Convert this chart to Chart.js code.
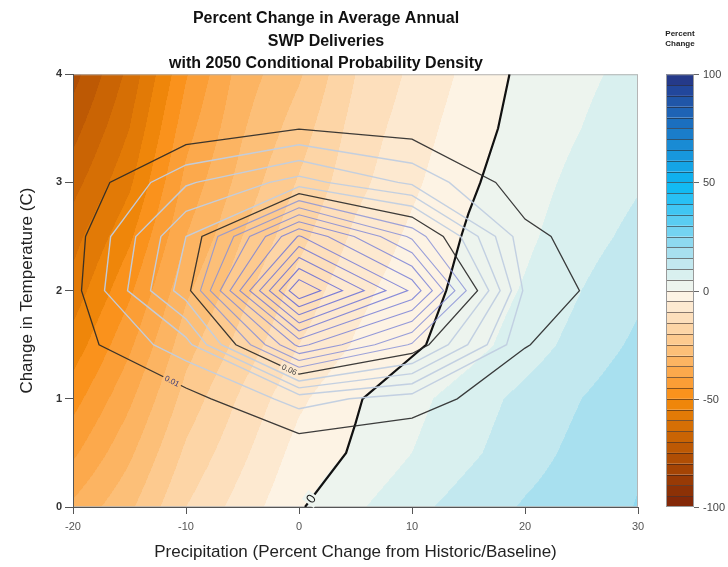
<!DOCTYPE html>
<html>
<head>
<meta charset="utf-8">
<script src="https://cdn.jsdelivr.net/npm/chart.js@4.4.1/dist/chart.umd.min.js"></script>
<style>
  html, body { margin: 0; padding: 0; background: #ffffff; }
  canvas { display: block; }
</style>
</head>
<body>
<canvas id="chart" width="728" height="567"></canvas>
<script>
// ---- Data -------------------------------------------------------------
// Precipitation change (%) columns of the delivery-change grid
const precipFine = [-20, -15, -10, -5, 0, 5, 10, 15, 20, 25, 30];
// Temperature change (C) rows shared by both grids
const tempSteps = [0, 0.5, 1, 1.5, 2, 2.5, 3, 3.5, 4];
// Percent change in average annual SWP deliveries (row = temperature step)
const deliveryChange = [
  [-34, -26, -15, -7.7, -0.5, 4.2, 8.5, 12.3, 15.5, 18, 20.2],
  [-41, -31, -19, -11, -3, 0.6, 5, 9, 13, 16.5, 19.5],
  [-47, -36, -23, -14, -6, -0.5, 3.5, 7.5, 11.5, 15, 18.5],
  [-53, -41, -27, -18, -10, -4.5, -1, 3, 7.5, 12, 16],
  [-58, -46, -31, -21.5, -13, -6.5, -2.3, 1.5, 5.5, 10, 14],
  [-62, -51, -35, -25, -16.5, -9, -4, 0.6, 4, 8, 11.5],
  [-67, -56, -38.5, -28, -19.5, -11.5, -6, -0.8, 3, 6.5, 9.5],
  [-72, -60, -42, -30.5, -22.5, -13, -7.5, -2.2, 2, 5, 8],
  [-77, -63.5, -45.5, -32.5, -25.7, -15, -9, -3.7, 1.4, 4, 6.5]
];
// Precipitation change (%) columns of the probability-density grid
const precipCoarse = [-20, -10, 0, 10, 20, 30];
// 2050 conditional probability density (row = temperature step)
const density = [
  [0, 0, 0, 0, 0, 0],
  [0, 0.0005, 0.0023, 0.001, 0, 0],
  [0.001, 0.006, 0.024, 0.015, 0.0025, 0],
  [0.0052, 0.026, 0.103, 0.0687, 0.0105, 0],
  [0.0063, 0.0554, 0.17, 0.118, 0.018, 0.0014],
  [0.005, 0.05, 0.121, 0.078, 0.013, 0],
  [0.001, 0.0286, 0.044, 0.028, 0.0037, 0],
  [0, 0.002, 0.0095, 0.0055, 0, 0],
  [0, 0, 0.001, 0, 0, 0]
];
// Density contour levels
const outerLevels = [0.01, 0.06];
const paleLevels = [0.02, 0.03, 0.04, 0.05];
const innerLevels = [0.07, 0.08, 0.09, 0.10, 0.11, 0.12, 0.13, 0.14, 0.15, 0.16];
// Colour-scale band edges (percent change) and the colour of each band
const bandEdges = [-100, -95, -90, -85, -80, -75, -70, -65, -60, -55, -50, -45, -40, -35, -30, -25, -20, -15, -10, -5,
                   0, 5, 10, 15, 20, 25, 30, 35, 40, 45, 50, 55, 60, 65, 70, 75, 80, 85, 90, 95, 100];
const bandColors = [
  '#832808', '#8c3106', '#983a05', '#a44404', '#b04e04', '#bd5904', '#ca6404', '#d66f05', '#e27a06', '#ef860a',
  '#fa921c', '#fb9e36', '#fca94c', '#fcb462', '#fcbf78', '#fdca8f', '#fdd5a6', '#fddfbc', '#fde9d0', '#fdf3e4',
  '#edf4ee', '#d9f0ef', '#c2e8ef', '#a8e0ef', '#8ed9f0', '#74d3f1', '#5acdf2', '#40c6f3', '#28c0f4', '#12baf3',
  '#10b0ee', '#14a4e6', '#1797dd', '#198bd4', '#1a7dca', '#1b6fbf', '#1e63b5', '#2056a8', '#22479c', '#253a8a'
];
const colorbarTicks = [-100, -50, 0, 50, 100];

// ---- Helpers ----------------------------------------------------------
const FONT = "'Liberation Sans', Arial, Helvetica, sans-serif";
Chart.defaults.font.family = FONT;

const bandRGB = bandColors.map(h => [parseInt(h.slice(1, 3), 16), parseInt(h.slice(3, 5), 16), parseInt(h.slice(5, 7), 16)]);

function cellIndex(arr, v) {
  let i = 0;
  while (i < arr.length - 2 && v > arr[i + 1]) i++;
  return i;
}
function bilinear(xs, ys, g, px, py) {
  const i = cellIndex(xs, px), j = cellIndex(ys, py);
  const fx = Math.min(1, Math.max(0, (px - xs[i]) / (xs[i + 1] - xs[i])));
  const fy = Math.min(1, Math.max(0, (py - ys[j]) / (ys[j + 1] - ys[j])));
  return g[j][i] * (1 - fx) * (1 - fy) + g[j][i + 1] * fx * (1 - fy) +
         g[j + 1][i] * (1 - fx) * fy + g[j + 1][i + 1] * fx * fy;
}
function bandIndex(v) {
  let k = 0;
  while (k < bandColors.length - 1 && v >= bandEdges[k + 1]) k++;
  return k;
}

// Marching squares: polylines of one level through a regular grid
function isolines(xs, ys, g, level) {
  const pts = new Map(), adj = new Map();
  const add = (k, p) => { if (!pts.has(k)) { pts.set(k, p); adj.set(k, []); } };
  const link = (a, b) => { adj.get(a).push(b); adj.get(b).push(a); };
  for (let j = 0; j < ys.length - 1; j++) {
    for (let i = 0; i < xs.length - 1; i++) {
      const c = [g[j][i], g[j][i + 1], g[j + 1][i + 1], g[j + 1][i]];
      const up = c.map(v => v >= level);
      const corners = [[xs[i], ys[j]], [xs[i + 1], ys[j]], [xs[i + 1], ys[j + 1]], [xs[i], ys[j + 1]]];
      const keys = ['h' + i + '_' + j, 'v' + (i + 1) + '_' + j, 'h' + i + '_' + (j + 1), 'v' + i + '_' + j];
      const hit = [];
      for (let e = 0; e < 4; e++) {
        const a = e, b = (e + 1) % 4;
        if (up[a] !== up[b]) {
          const f = (level - c[a]) / (c[b] - c[a]);
          add(keys[e], {
            x: corners[a][0] + f * (corners[b][0] - corners[a][0]),
            y: corners[a][1] + f * (corners[b][1] - corners[a][1])
          });
          hit.push(e);
        }
      }
      if (hit.length === 2) link(keys[hit[0]], keys[hit[1]]);
      else if (hit.length === 4) {
        const centerUp = (c[0] + c[1] + c[2] + c[3]) / 4 >= level;
        for (let k = 0; k < 4; k++) if (up[k] !== centerUp) link(keys[(k + 3) % 4], keys[k]);
      }
    }
  }
  const seen = new Set(), lines = [];
  const walk = (start) => {
    const line = [pts.get(start)];
    seen.add(start);
    let prev = null, cur = start;
    for (;;) {
      const nxt = adj.get(cur).find(n => n !== prev && !seen.has(n));
      if (nxt === undefined) {
        if (line.length > 2 && adj.get(cur).includes(start)) line.push(pts.get(start));
        break;
      }
      seen.add(nxt);
      line.push(pts.get(nxt));
      prev = cur;
      cur = nxt;
    }
    return line;
  };
  for (const [k, n] of adj) if (n.length === 1 && !seen.has(k)) lines.push(walk(k));
  for (const k of adj.keys()) if (!seen.has(k)) lines.push(walk(k));
  return lines;
}

// ---- Datasets ---------------------------------------------------------
const datasets = [];
const linesByLevel = {};
function addLevel(tag, xs, g, level, color, width) {
  const lines = isolines(xs, tempSteps, g, level);
  linesByLevel[tag] = lines;
  lines.forEach(line => datasets.push({
    data: line, showLine: true, pointRadius: 0, pointHoverRadius: 0,
    borderColor: color, borderWidth: width, fill: false, tension: 0
  }));
}
paleLevels.forEach(l => addLevel('d' + l, precipCoarse, density, l, 'rgba(192,205,224,0.95)', 1.4));
innerLevels.forEach((l, n) => {
  const f = n / (innerLevels.length - 1);
  const r = Math.round(140 - 45 * f), gg = Math.round(148 - 48 * f);
  addLevel('d' + l, precipCoarse, density, l, `rgba(${r},${gg},215,0.85)`, 1.1);
});
outerLevels.forEach(l => addLevel('d' + l, precipCoarse, density, l, 'rgba(40,40,40,0.9)', 1.3));
addLevel('zero', precipFine, deliveryChange, 0, '#111111', 2.2);

// In-line contour labels
const contourLabels = [
  { tag: 'd0.01', text: '0.01', p: -11.3, t: 1.15, size: 8, color: '#3c3c78' },
  { tag: 'd0.06', text: '0.06', p: -0.9, t: 1.26, size: 8, color: '#444444' },
  { tag: 'zero', text: '0', p: 1.0, t: 0.08, size: 13, color: '#111111' }
];

// ---- Plugins ----------------------------------------------------------
const fieldPlugin = {
  id: 'deliveryField',
  beforeDraw(chart) {
    const { ctx, chartArea: a, scales: { x, y } } = chart;
    const w = Math.round(a.right - a.left), h = Math.round(a.bottom - a.top);
    const off = document.createElement('canvas');
    off.width = w; off.height = h;
    const octx = off.getContext('2d');
    const img = octx.createImageData(w, h);
    for (let py = 0; py < h; py++) {
      const t = y.getValueForPixel(a.top + py + 0.5);
      for (let px = 0; px < w; px++) {
        const p = x.getValueForPixel(a.left + px + 0.5);
        const c = bandRGB[bandIndex(bilinear(precipFine, tempSteps, deliveryChange, p, t))];
        const k = (py * w + px) * 4;
        img.data[k] = c[0]; img.data[k + 1] = c[1]; img.data[k + 2] = c[2]; img.data[k + 3] = 255;
      }
    }
    octx.putImageData(img, 0, 0);
    ctx.save();
    ctx.drawImage(off, a.left, a.top);
    ctx.strokeStyle = '#b5b5b5';
    ctx.lineWidth = 1;
    ctx.strokeRect(a.left + 0.5, a.top + 0.5, w - 1, h - 1);
    ctx.restore();
  }
};

const labelPlugin = {
  id: 'contourLabels',
  afterDatasetsDraw(chart) {
    const { ctx, scales: { x, y } } = chart;
    contourLabels.forEach(lb => {
      const tx = x.getPixelForValue(lb.p), ty = y.getPixelForValue(lb.t);
      let best = null;
      (linesByLevel[lb.tag] || []).forEach(line => {
        for (let i = 0; i < line.length - 1; i++) {
          const ax = x.getPixelForValue(line[i].x), ay = y.getPixelForValue(line[i].y);
          const bx = x.getPixelForValue(line[i + 1].x), by = y.getPixelForValue(line[i + 1].y);
          const dx = bx - ax, dy = by - ay, L2 = dx * dx + dy * dy || 1;
          const s = Math.max(0, Math.min(1, ((tx - ax) * dx + (ty - ay) * dy) / L2));
          const qx = ax + s * dx, qy = ay + s * dy;
          const d = (qx - tx) ** 2 + (qy - ty) ** 2;
          if (!best || d < best.d) best = { d, qx, qy, ang: Math.atan2(dy, dx) };
        }
      });
      if (!best) return;
      let ang = best.ang;
      if (ang > Math.PI / 2) ang -= Math.PI;
      if (ang < -Math.PI / 2) ang += Math.PI;
      const v = bilinear(precipFine, tempSteps, deliveryChange, x.getValueForPixel(best.qx), y.getValueForPixel(best.qy));
      ctx.save();
      ctx.translate(best.qx, best.qy);
      ctx.rotate(ang);
      ctx.font = `${lb.size}px ${FONT}`;
      const tw = ctx.measureText(lb.text).width;
      ctx.fillStyle = bandColors[bandIndex(v)];
      ctx.fillRect(-tw / 2 - 2, -lb.size / 2 - 1, tw + 4, lb.size + 2);
      ctx.fillStyle = lb.color;
      ctx.textAlign = 'center';
      ctx.textBaseline = 'middle';
      ctx.fillText(lb.text, 0, 0.5);
      ctx.restore();
    });
  }
};

const colorbarPlugin = {
  id: 'colorbar',
  afterDraw(chart) {
    const { ctx } = chart;
    const cb = chart.scales.cb;
    const x0 = 666, x1 = 694;
    ctx.save();
    for (let k = 0; k < bandColors.length; k++) {
      const yTop = cb.getPixelForValue(bandEdges[k + 1]);
      const yBot = cb.getPixelForValue(bandEdges[k]);
      ctx.fillStyle = bandColors[k];
      ctx.fillRect(x0, yTop, x1 - x0, yBot - yTop);
    }
    ctx.strokeStyle = 'rgba(40,30,30,0.55)';
    ctx.lineWidth = 1;
    for (let k = 1; k < bandColors.length; k++) {
      const yy = Math.round(cb.getPixelForValue(bandEdges[k])) + 0.5;
      ctx.beginPath(); ctx.moveTo(x0, yy); ctx.lineTo(x1, yy); ctx.stroke();
    }
    ctx.strokeStyle = '#9a9a9a';
    const yT = cb.getPixelForValue(100), yB = cb.getPixelForValue(-100);
    ctx.strokeRect(x0 + 0.5, yT + 0.5, x1 - x0 - 1, yB - yT - 1);
    ctx.fillStyle = '#444';
    ctx.font = `11px ${FONT}`;
    ctx.textAlign = 'left';
    ctx.textBaseline = 'middle';
    colorbarTicks.forEach(v => {
      const yy = Math.round(cb.getPixelForValue(v)) + 0.5;
      ctx.strokeStyle = '#666';
      ctx.beginPath(); ctx.moveTo(x1, yy); ctx.lineTo(x1 + 5, yy); ctx.stroke();
      ctx.fillText(String(v), x1 + 9, yy);
    });
    ctx.fillStyle = '#222';
    ctx.font = `bold 8px ${FONT}`;
    ctx.textAlign = 'center';
    ctx.fillText('Percent', 680, 34);
    ctx.fillText('Change', 680, 44);
    ctx.restore();
  }
};

// ---- Chart ------------------------------------------------------------
new Chart(document.getElementById('chart'), {
  type: 'scatter',
  data: { datasets },
  plugins: [fieldPlugin, labelPlugin, colorbarPlugin],
  options: {
    responsive: false,
    animation: false,
    events: [],
    layout: { padding: { left: 14, right: 90, top: 0, bottom: 4 } },
    plugins: {
      legend: { display: false },
      tooltip: { enabled: false },
      title: {
        display: true,
        text: ['Percent Change in Average Annual', 'SWP Deliveries', 'with 2050 Conditional Probability Density'],
        color: '#111',
        font: { size: 16, weight: 'bold', lineHeight: 1.38 },
        padding: { top: 8, bottom: 0 }
      }
    },
    scales: {
      x: {
        type: 'linear', min: -20, max: 30,
        ticks: { stepSize: 10, color: '#555', font: { size: 11 }, padding: 6 },
        grid: { drawOnChartArea: false, tickLength: 7, color: '#555' },
        border: { display: true, color: '#555' },
        title: { display: true, text: 'Precipitation (Percent Change from Historic/Baseline)', color: '#222',
                 font: { size: 17 }, padding: { top: 0, bottom: 0 } },
        afterFit(s) { s.height = 56; }
      },
      y: {
        type: 'linear', min: 0, max: 4,
        ticks: { stepSize: 1, color: '#333', font: { size: 11, weight: 'bold' }, padding: 3 },
        grid: { drawOnChartArea: false, tickLength: 8, color: '#555' },
        border: { display: true, color: '#555' },
        title: { display: true, text: 'Change in Temperature (C)', color: '#222',
                 font: { size: 17 }, padding: { top: 3, bottom: 0 } },
        afterFit(s) { s.width = 59; }
      },
      cb: { type: 'linear', axis: 'y', position: 'right', display: false, min: -100, max: 100 }
    }
  }
});
</script>
</body>
</html>
